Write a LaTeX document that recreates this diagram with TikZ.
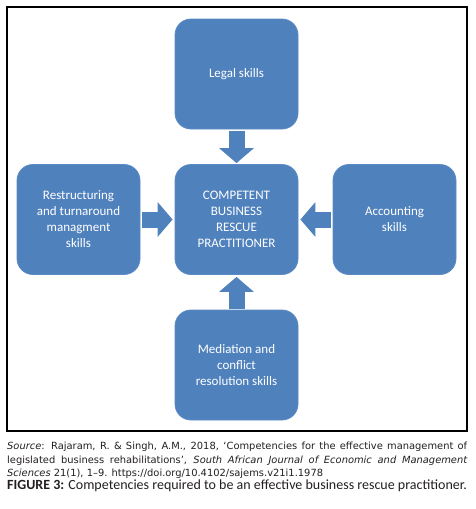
\documentclass[tikz,border=0pt]{standalone}
\usepackage{fontspec}
\setmainfont{Carlito}
\newfontfamily\srcfont{DejaVu Sans}
\usetikzlibrary{arrows.meta}
\definecolor{boxblue}{HTML}{4F81BD}
\definecolor{boxedge}{HTML}{5B8AC4}
\definecolor{captext}{HTML}{231F20}
\begin{document}
\begin{tikzpicture}[x=1pt,y=-1pt,
 skill/.style={draw=boxedge, fill=boxblue, rounded corners=16pt, minimum width=123pt, minimum height=110pt, text=white, align=center, font=\fontsize{13}{16}\selectfont, inner sep=2pt, line width=0.8pt},
 flow/.style={draw=boxblue, line width=16pt, -{Triangle[width=34pt,length=15pt]}}]
\useasboundingbox (0,0) rectangle (476,509);
\node[draw, line width=1.2pt, minimum width=460pt, minimum height=424pt, inner sep=0pt] (frame) at (237,219) {};
\node[skill] (legal) at (236.5,74) {Legal skills};
\node[skill] (core) at (236.5,219.5) {COMPETENT\\BUSINESS\\RESCUE\\PRACTITIONER};
\node[skill] (restr) at (78.5,219.5) {Restructuring\\and turnaround\\managment\\skills};
\node[skill] (acct) at (394.5,219.5) {Accounting\\skills};
\node[skill] (med) at (236.5,365) {Mediation and\\conflict\\resolution skills};
\draw[flow, shorten <=2pt, shorten >=1pt] (legal) -- (core);
\draw[flow, shorten <=2pt, shorten >=2pt] (restr) -- (core);
\draw[flow, shorten <=2pt, shorten >=2pt] (acct) -- (core);
\draw[flow, shorten <=1pt, shorten >=2pt] (med) -- (core);
\node[anchor=north west, text width=460pt, align=justify, inner sep=0pt, text=captext, font=\srcfont\fontsize{9.9}{13.4}\selectfont] (src) at (7,442) {\textit{Source}: Rajaram, R. \& Singh, A.M., 2018, ‘Competencies for the effective management of\linebreak legislated business rehabilitations’, \textit{South African Journal of Economic and Management\linebreak Sciences} 21(1), 1–9. https://doi.org/10.4102/sajems.v21i1.1978};
\node[anchor=west, inner sep=0pt, text=captext, font=\fontsize{14}{16}\selectfont] (cap) at (7,486) {\textbf{FIGURE 3:} Competencies required to be an effective business rescue practitioner.};
\end{tikzpicture}
\end{document}
